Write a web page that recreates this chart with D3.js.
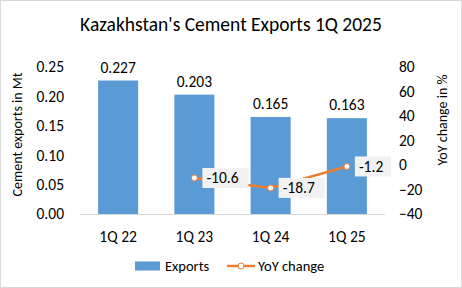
<!DOCTYPE html>
<html>
<head>
<meta charset="utf-8">
<script src="https://cdn.jsdelivr.net/npm/d3@7"></script>
<style>
  body { margin: 0; background: #fff; }
  svg text { font-family: Carlito, Lato, "Open Sans", sans-serif; fill: #000; }
</style>
</head>
<body>
<div id="chart"></div>
<script>
'use strict';

var categories = ['1Q 22', '1Q 23', '1Q 24', '1Q 25'];
var exportsMt = [0.227, 0.203, 0.165, 0.163];
var yoyChange = [null, -10.6, -18.7, -1.2];
var leftTicks = [0, 0.05, 0.10, 0.15, 0.20, 0.25];
var rightTicks = [-40, -20, 0, 20, 40, 60, 80];

var width = 462, height = 288;
var margins = { left: 80, right: 77, top: 67, bottom: 74 };
var plotW = width - margins.left - margins.right;
var plotH = height - margins.top - margins.bottom;

var svg = d3.select('#chart').append('svg')
  .attr('width', width)
  .attr('height', height);

svg.append('rect')
  .attr('x', 0.5).attr('y', 0.5)
  .attr('width', width - 1).attr('height', height - 1)
  .attr('fill', '#fff').attr('stroke', '#d9d9d9');

svg.append('text')
  .attr('x', width / 2).attr('y', 31)
  .attr('text-anchor', 'middle')
  .style('font-size', '19.5px')
  .text("Kazakhstan's Cement Exports 1Q 2025");

var chart = svg.append('g')
  .attr('transform', 'translate(' + margins.left + ',' + margins.top + ')');

var xScale = d3.scaleBand().domain(categories).range([0, plotW]).paddingInner(0.475).paddingOuter(0.2375);
var yLeft = d3.scaleLinear().domain([0, 0.25]).range([plotH, 0]);
var yRight = d3.scaleLinear().domain([-40, 80]).range([plotH, 0]);

// left axis
var leftAxis = chart.append('g')
  .call(d3.axisLeft(yLeft).tickValues(leftTicks).tickFormat(d3.format('.2f')).tickSize(0).tickPadding(16));
leftAxis.select('.domain').remove();
leftAxis.selectAll('text').style('font-size', '15.5px');

// right axis
var rightAxis = chart.append('g')
  .attr('transform', 'translate(' + plotW + ',0)')
  .call(d3.axisRight(yRight).tickValues(rightTicks).tickSize(0).tickPadding(14));
rightAxis.select('.domain').remove();
rightAxis.selectAll('text').style('font-size', '15.5px');

// bars
chart.selectAll('.bar')
  .data(exportsMt)
  .enter()
  .append('rect')
  .attr('class', 'bar')
  .attr('x', function(d, i) { return xScale(categories[i]); })
  .attr('y', function(d) { return yLeft(d); })
  .attr('width', xScale.bandwidth())
  .attr('height', function(d) { return plotH - yLeft(d); })
  .attr('fill', '#5b9bd5');

chart.selectAll('.barLabel')
  .data(exportsMt)
  .enter()
  .append('text')
  .attr('class', 'barLabel')
  .attr('x', function(d, i) { return xScale(categories[i]) + xScale.bandwidth() / 2; })
  .attr('y', function(d) { return yLeft(d) - 8; })
  .attr('text-anchor', 'middle')
  .style('font-size', '15.5px')
  .text(function(d) { return d3.format('.3f')(d); });

// x axis line
chart.append('line')
  .attr('x1', 0).attr('x2', plotW)
  .attr('y1', plotH + 0.5).attr('y2', plotH + 0.5)
  .attr('stroke', '#d9d9d9');

chart.selectAll('.cat')
  .data(categories)
  .enter()
  .append('text')
  .attr('class', 'cat')
  .attr('x', function(d) { return xScale(d) + xScale.bandwidth() / 2; })
  .attr('y', plotH + 28)
  .attr('text-anchor', 'middle')
  .style('font-size', '15.5px')
  .text(function(d) { return d; });

// YoY line
var yoyPoints = categories.map(function(c, i) { return { cat: c, v: yoyChange[i] }; })
  .filter(function(d) { return d.v !== null; });

var line = d3.line()
  .x(function(d) { return xScale(d.cat) + xScale.bandwidth() / 2; })
  .y(function(d) { return yRight(d.v); });

chart.append('path')
  .datum(yoyPoints)
  .attr('d', line)
  .attr('fill', 'none')
  .attr('stroke', '#ed7d31')
  .attr('stroke-width', 2.5);

chart.selectAll('.pt')
  .data(yoyPoints)
  .enter()
  .append('circle')
  .attr('class', 'pt')
  .attr('cx', function(d) { return xScale(d.cat) + xScale.bandwidth() / 2; })
  .attr('cy', function(d) { return yRight(d.v); })
  .attr('r', 3)
  .attr('fill', '#fff')
  .attr('stroke', '#ed7d31')
  .attr('stroke-width', 1);

var yoyLabels = chart.selectAll('.yoyLabel')
  .data(yoyPoints)
  .enter()
  .append('g')
  .attr('class', 'yoyLabel')
  .attr('transform', function(d) {
    return 'translate(' + (xScale(d.cat) + xScale.bandwidth() / 2 + 8) + ',' + yRight(d.v) + ')';
  });

yoyLabels.append('rect')
  .attr('x', 0).attr('y', -10)
  .attr('width', function(d) { return d.v <= -10 ? 46 : 36; })
  .attr('height', 20)
  .attr('fill', '#f2f2f2');

yoyLabels.append('text')
  .attr('x', 4).attr('y', 5.5)
  .style('font-size', '15.5px')
  .text(function(d) { return d3.format('.1f')(d.v).replace('−', '-'); });

// axis titles
svg.append('text')
  .attr('transform', 'translate(22,' + (margins.top + plotH / 2 - 6) + ') rotate(-90)')
  .attr('text-anchor', 'middle')
  .style('font-size', '14px')
  .text('Cement exports in Mt');

svg.append('text')
  .attr('transform', 'translate(447,120) rotate(-90)')
  .attr('text-anchor', 'middle')
  .style('font-size', '14px')
  .text('YoY change in %');

// legend
var legend = svg.append('g').attr('transform', 'translate(0,266)');
legend.append('rect')
  .attr('x', 135).attr('y', -4.5).attr('width', 25).attr('height', 9)
  .attr('fill', '#5b9bd5');
legend.append('text')
  .attr('x', 165).attr('y', 5)
  .style('font-size', '14.5px')
  .text('Exports');
legend.append('line')
  .attr('x1', 227).attr('x2', 255).attr('y1', 0).attr('y2', 0)
  .attr('stroke', '#ed7d31').attr('stroke-width', 2.5);
legend.append('circle')
  .attr('cx', 241).attr('cy', 0).attr('r', 3)
  .attr('fill', '#fff').attr('stroke', '#ed7d31');
legend.append('text')
  .attr('x', 258).attr('y', 5)
  .style('font-size', '14.5px')
  .text('YoY change');
</script>
</body>
</html>
